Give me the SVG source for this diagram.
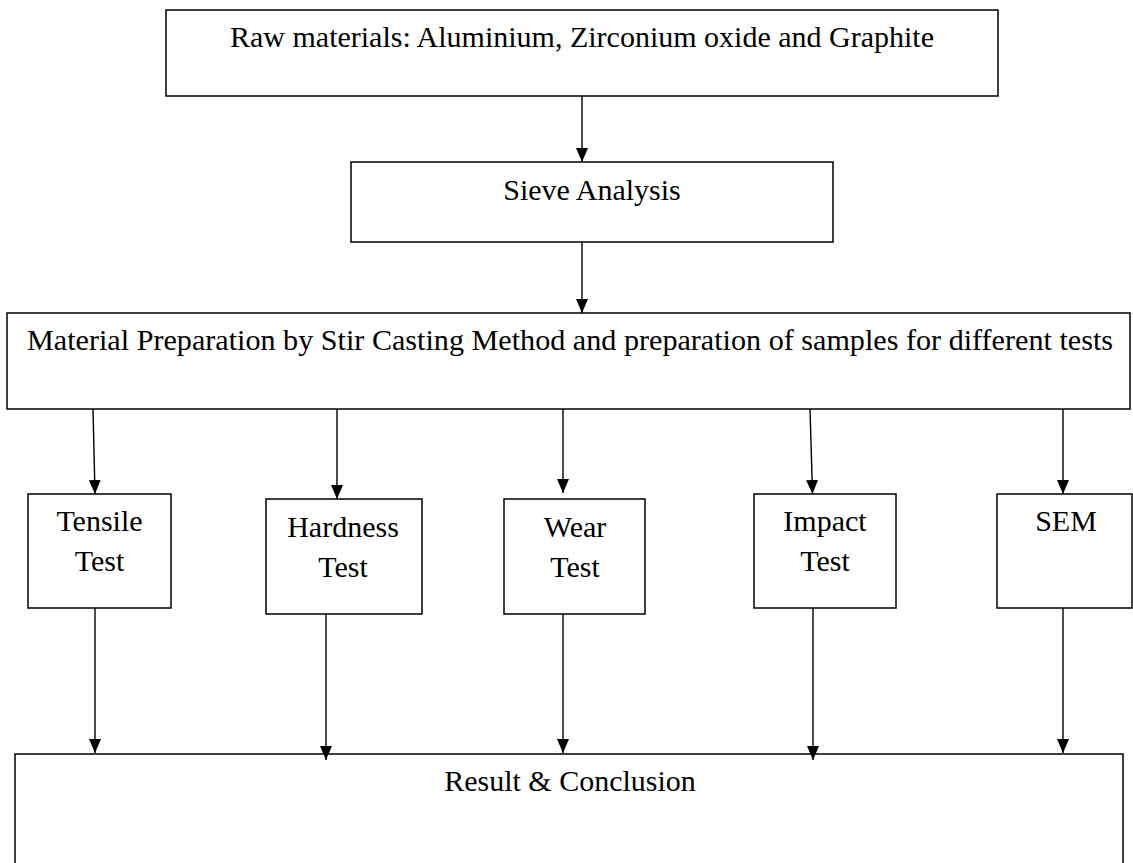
<svg xmlns="http://www.w3.org/2000/svg" width="1133" height="863" viewBox="0 0 1133 863">
<style>
.box{fill:#fff;stroke:#000;stroke-width:1.5}
.t{font-family:"Liberation Serif","Times New Roman",serif;font-size:30px;fill:#000;text-anchor:middle}
.c{stroke:#000;stroke-width:1.4;fill:none;marker-end:url(#ah)}
</style>
<defs>
<marker id="ah" markerUnits="userSpaceOnUse" markerWidth="14" markerHeight="12" refX="14" refY="6" orient="auto">
<path d="M0,0 L14,6 L0,12 z" fill="#000"/>
</marker>
</defs>
<rect width="1133" height="863" fill="#fff"/>
<g id="raw">
<rect class="box" x="166" y="10" width="832" height="86"/>
<text class="t" x="582" y="47" textLength="704" lengthAdjust="spacingAndGlyphs">Raw materials: Aluminium, Zirconium oxide and Graphite</text>
</g>
<g id="sieve">
<rect class="box" x="351" y="162" width="482" height="80"/>
<text class="t" x="592" y="200">Sieve Analysis</text>
</g>
<g id="prep">
<rect class="box" x="7" y="313" width="1123" height="96"/>
<text class="t" x="570" y="350" textLength="1086" lengthAdjust="spacingAndGlyphs">Material Preparation by Stir Casting Method and preparation of samples for different tests</text>
</g>
<g id="tensile">
<rect class="box" x="28" y="494" width="143" height="114"/>
<text class="t" x="99.5" y="531">Tensile</text>
<text class="t" x="99.5" y="571">Test</text>
</g>
<g id="hardness">
<rect class="box" x="266" y="499" width="156" height="115"/>
<text class="t" x="343" y="537">Hardness</text>
<text class="t" x="343" y="577">Test</text>
</g>
<g id="wear">
<rect class="box" x="504" y="499" width="141" height="115"/>
<text class="t" x="575" y="537">Wear</text>
<text class="t" x="575" y="577">Test</text>
</g>
<g id="impact">
<rect class="box" x="754" y="494" width="142" height="114"/>
<text class="t" x="825" y="531">Impact</text>
<text class="t" x="825" y="571">Test</text>
</g>
<g id="sem">
<rect class="box" x="997" y="494" width="135" height="114"/>
<text class="t" x="1066" y="531">SEM</text>
</g>
<g id="result">
<path class="box" d="M15,870 L15,754 L1123,754 L1123,870" fill="none"/>
<text class="t" x="570" y="791">Result &amp; Conclusion</text>
</g>
<g id="connectors">
<line class="c" x1="582" y1="96" x2="582" y2="162"/>
<line class="c" x1="582" y1="242" x2="582" y2="313"/>
<line class="c" x1="93" y1="409" x2="95" y2="494"/>
<line class="c" x1="337" y1="409" x2="337" y2="499"/>
<line class="c" x1="563" y1="409" x2="563" y2="493"/>
<line class="c" x1="810" y1="409" x2="812.5" y2="494"/>
<line class="c" x1="1063" y1="409" x2="1063" y2="494"/>
<line class="c" x1="95" y1="608" x2="95" y2="753"/>
<line class="c" x1="326" y1="614" x2="326" y2="760"/>
<line class="c" x1="563" y1="614" x2="563" y2="753"/>
<line class="c" x1="813" y1="608" x2="813" y2="760"/>
<line class="c" x1="1063" y1="608" x2="1063" y2="753"/>
</g>
</svg>
